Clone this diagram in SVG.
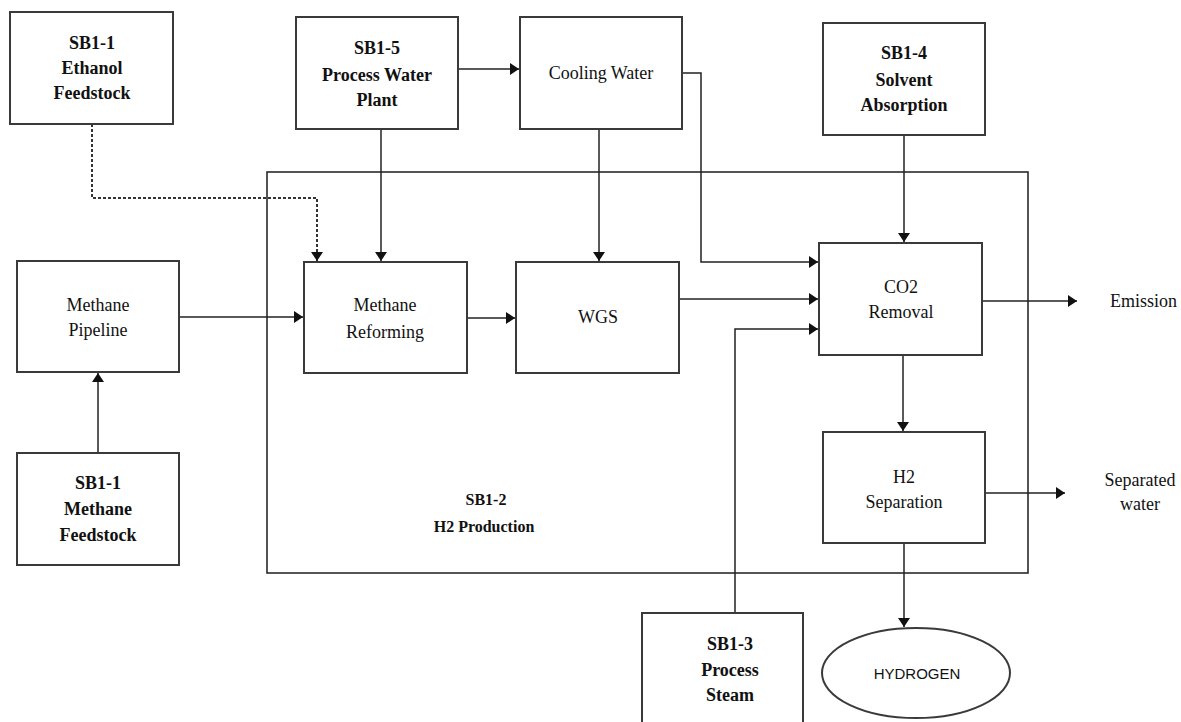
<svg xmlns="http://www.w3.org/2000/svg" width="1181" height="722" viewBox="0 0 1181 722">
<style>
.box{fill:#fff;stroke:#3a3a3a;stroke-width:2}
.frame{fill:none;stroke:#2a2a2a;stroke-width:1.6}
.ln{fill:none;stroke:#222;stroke-width:1.5}
.dash{fill:none;stroke:#333;stroke-width:2;stroke-dasharray:3 2}
.b{font-family:"Liberation Serif","Times New Roman",serif;font-weight:bold;font-size:18px;fill:#111;text-anchor:middle}
.n{font-family:"Liberation Serif","Times New Roman",serif;font-size:18px;fill:#111;text-anchor:middle}
.s{font-family:"Liberation Sans",Arial,sans-serif;font-size:15px;fill:#111;text-anchor:middle}
</style>
<defs>
<marker id="ah" markerUnits="userSpaceOnUse" markerWidth="10" markerHeight="12" refX="9" refY="6" orient="auto">
<path d="M0,0 L9,6 L0,12 Z" fill="#111"/>
</marker>
</defs>

<g id="sb1-2-frame">
<rect class="frame" x="267" y="172" width="761" height="401"/>
<text class="b" x="486" y="505" style="font-size:16px">SB1-2</text>
<text class="b" x="484" y="532" style="font-size:16px">H2 Production</text>
</g>

<g id="connectors">
<path class="dash" d="M92,124 V198 H317 V261" marker-end="url(#ah)"/>
<path class="ln" d="M381,129 V261" marker-end="url(#ah)"/>
<path class="ln" d="M458,69 H519" marker-end="url(#ah)"/>
<path class="ln" d="M599,129 V261" marker-end="url(#ah)"/>
<path class="ln" d="M682,73 H701 V262 H818" marker-end="url(#ah)"/>
<path class="ln" d="M904,135 V242" marker-end="url(#ah)"/>
<path class="ln" d="M679,299 H818" marker-end="url(#ah)"/>
<path class="ln" d="M735,613 V329 H818" marker-end="url(#ah)"/>
<path class="ln" d="M179,317 H303" marker-end="url(#ah)"/>
<path class="ln" d="M467,318 H515" marker-end="url(#ah)"/>
<path class="ln" d="M98,453 V373" marker-end="url(#ah)"/>
<path class="ln" d="M982,301 H1077" marker-end="url(#ah)"/>
<path class="ln" d="M903,355 V431" marker-end="url(#ah)"/>
<path class="ln" d="M985,493 H1065" marker-end="url(#ah)"/>
<path class="ln" d="M904,543 V627" marker-end="url(#ah)"/>
</g>

<g id="ethanol-feedstock">
<rect class="box" x="10" y="12" width="163" height="112"/>
<text class="b" x="92" y="49">SB1-1</text>
<text class="b" x="92" y="74">Ethanol</text>
<text class="b" x="92" y="99">Feedstock</text>
</g>

<g id="process-water-plant">
<rect class="box" x="296" y="17" width="162" height="112"/>
<text class="b" x="377" y="54">SB1-5</text>
<text class="b" x="377" y="81">Process Water</text>
<text class="b" x="377" y="106">Plant</text>
</g>

<g id="cooling-water">
<rect class="box" x="520" y="17" width="162" height="112"/>
<text class="n" x="601" y="79">Cooling Water</text>
</g>

<g id="solvent-absorption">
<rect class="box" x="823" y="23" width="162" height="112"/>
<text class="b" x="904" y="59">SB1-4</text>
<text class="b" x="904" y="86">Solvent</text>
<text class="b" x="904" y="111">Absorption</text>
</g>

<g id="methane-pipeline">
<rect class="box" x="17" y="261" width="162" height="111"/>
<text class="n" x="98" y="311">Methane</text>
<text class="n" x="98" y="336">Pipeline</text>
</g>

<g id="methane-reforming">
<rect class="box" x="304" y="262" width="163" height="111"/>
<text class="n" x="385" y="311">Methane</text>
<text class="n" x="385" y="338">Reforming</text>
</g>

<g id="wgs">
<rect class="box" x="516" y="262" width="163" height="111"/>
<text class="n" x="598" y="323">WGS</text>
</g>

<g id="co2-removal">
<rect class="box" x="819" y="243" width="163" height="112"/>
<text class="n" x="901" y="293">CO2</text>
<text class="n" x="901" y="318">Removal</text>
</g>

<g id="emission">
<text class="n" x="1110" y="307" style="text-anchor:start">Emission</text>
</g>

<g id="h2-separation">
<rect class="box" x="823" y="432" width="162" height="111"/>
<text class="n" x="904" y="483">H2</text>
<text class="n" x="904" y="508">Separation</text>
</g>

<g id="separated-water">
<text class="n" x="1140" y="486">Separated</text>
<text class="n" x="1140" y="510">water</text>
</g>

<g id="process-steam">
<rect class="box" x="642" y="613" width="161" height="120"/>
<text class="b" x="730" y="650">SB1-3</text>
<text class="b" x="730" y="676">Process</text>
<text class="b" x="730" y="701">Steam</text>
</g>

<g id="hydrogen">
<ellipse class="box" cx="916" cy="673" rx="94" ry="45"/>
<text class="s" x="917" y="679">HYDROGEN</text>
</g>

<g id="methane-feedstock">
<rect class="box" x="17" y="453" width="162" height="112"/>
<text class="b" x="98" y="489">SB1-1</text>
<text class="b" x="98" y="515">Methane</text>
<text class="b" x="98" y="541">Feedstock</text>
</g>
</svg>
